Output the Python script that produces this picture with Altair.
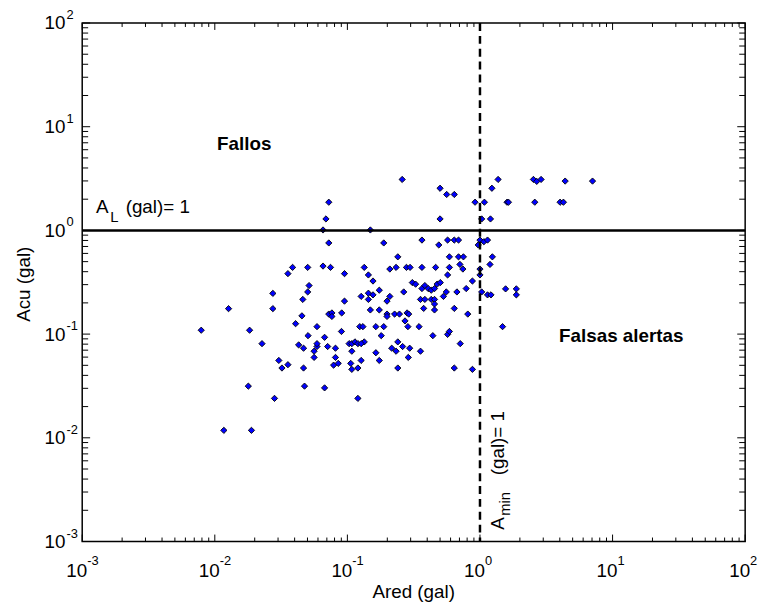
import altair as alt
import pandas as pd

# ---- data (gal) ----
ared = [0.0386, 0.0356, 0.0274, 0.0127, 0.0274, 0.0461, 0.0454, 0.0407, 0.0079, 0.0183,
        0.0227, 0.0429, 0.0467, 0.0304, 0.0321, 0.0356, 0.0467, 0.0179, 0.0475, 0.0282,
        0.0117, 0.0189, 0.259, 0.500, 0.561, 0.640, 0.0724, 0.918, 1.08, 1.23,
        1.37, 0.0689, 0.500, 1.03, 1.20, 0.0655, 0.149, 0.0724, 0.188, 0.365,
        0.489, 0.570, 0.640, 0.689, 1.00, 1.07, 1.14, 0.970, 0.240, 0.588,
        0.689, 0.750, 1.24, 1.19, 0.706, 0.0502, 0.0655, 0.0746, 0.0951, 0.134,
        0.144, 0.156, 0.209, 0.233, 0.279, 0.297, 0.365, 0.463, 0.588, 0.743,
        0.570, 1.00, 1.00, 0.877, 0.787, 0.0514, 0.0502, 0.0951, 0.127, 0.144,
        0.144, 0.156, 0.174, 0.209, 0.199, 0.266, 0.309, 0.327, 0.365, 0.384,
        0.407, 0.429, 0.454, 0.475, 0.502, 0.557, 0.530, 0.670, 0.356, 0.384,
        0.429, 0.454, 0.454, 1.03, 1.14, 1.21, 0.0724, 0.0764, 0.0906, 0.149,
        0.174, 0.199, 0.227, 0.247, 0.282, 0.290, 0.376, 0.454, 0.640, 0.809,
        0.0764, 0.199, 0.272, 0.0590, 0.124, 0.131, 0.164, 0.188, 0.286, 0.347,
        1.48, 0.0505, 0.0673, 0.0902, 0.180, 0.441, 0.570, 0.588, 0.0561, 0.0590,
        0.0590, 0.0710, 0.0813, 0.103, 0.108, 0.114, 0.120, 0.134, 0.127, 0.108,
        0.164, 0.216, 0.240, 0.233, 0.261, 0.295, 0.356, 0.710, 0.0561, 0.0813,
        0.174, 0.288, 0.127, 0.0787, 0.0853, 0.106, 0.108, 0.120, 0.240, 0.640,
        0.877, 0.0673, 0.120, 2.53, 2.68, 2.89, 4.39, 7.06, 1.60, 1.64,
        2.59, 4.02, 4.26, 1.56, 1.88, 1.88]
acu = [0.440, 0.383, 0.247, 0.176, 0.176, 0.216, 0.150, 0.126, 0.109, 0.109,
       0.0809, 0.0787, 0.0731, 0.0557, 0.0471, 0.0507, 0.0471, 0.0315, 0.0315, 0.0240,
       0.0118, 0.0118, 3.10, 2.55, 2.22, 2.22, 1.87, 1.87, 1.87, 2.55,
       3.10, 1.29, 1.29, 1.29, 1.29, 1.01, 1.01, 0.757, 0.757, 0.807,
       0.724, 0.807, 0.807, 0.807, 0.807, 0.778, 0.807, 0.724, 0.556, 0.556,
       0.556, 0.556, 0.556, 0.470, 0.470, 0.440, 0.453, 0.440, 0.383, 0.440,
       0.372, 0.325, 0.424, 0.440, 0.440, 0.440, 0.440, 0.440, 0.440, 0.424,
       0.372, 0.424, 0.372, 0.325, 0.275, 0.294, 0.255, 0.208, 0.231, 0.248,
       0.216, 0.239, 0.265, 0.231, 0.208, 0.255, 0.314, 0.303, 0.275, 0.294,
       0.275, 0.265, 0.275, 0.303, 0.314, 0.255, 0.231, 0.255, 0.216, 0.216,
       0.216, 0.216, 0.195, 0.255, 0.239, 0.239, 0.156, 0.160, 0.160, 0.171,
       0.171, 0.156, 0.156, 0.156, 0.160, 0.156, 0.177, 0.171, 0.177, 0.156,
       0.148, 0.148, 0.134, 0.118, 0.118, 0.118, 0.118, 0.118, 0.118, 0.118,
       0.118, 0.0966, 0.0931, 0.106, 0.0966, 0.0966, 0.0994, 0.106, 0.0684, 0.0759,
       0.0809, 0.0759, 0.0731, 0.0809, 0.0809, 0.0841, 0.0809, 0.0841, 0.0809, 0.0684,
       0.0661, 0.0731, 0.0841, 0.0684, 0.0759, 0.0731, 0.0684, 0.0809, 0.0596, 0.0596,
       0.0557, 0.0596, 0.0557, 0.0502, 0.0522, 0.0522, 0.0457, 0.0471, 0.0471, 0.0471,
       0.0457, 0.0303, 0.0240, 3.10, 2.97, 3.10, 2.99, 2.99, 1.87, 1.87,
       1.87, 1.87, 1.87, 0.273, 0.273, 0.239]

al_threshold = [1.0]     # A_L (gal) = 1
amin_threshold = [1.0]   # A_min (gal) = 1

major_exponents = [-3, -2, -1, 0, 1, 2]
minor_multipliers = [2, 3, 4, 5, 6, 7, 8, 9]

x_title = "Ared (gal)"
y_title = "Acu (gal)"
label_fallos = "Fallos"
label_falsas = "Falsas alertas"

# ---- layout / style ----
W, H = 670, 524
FONT = "Liberation Sans"
FS = 19
FS_SMALL = 13

xs = alt.Scale(type="log", domain=[1e-3, 1e2], nice=False)
ys = alt.Scale(type="log", domain=[1e-3, 1e2], nice=False)


def X(f):
    return alt.X(f, type="quantitative", scale=xs, axis=None)


def Y(f):
    return alt.Y(f, type="quantitative", scale=ys, axis=None)


pts = pd.DataFrame({"ared": ared, "acu": acu})
major = pd.DataFrame({"v": [10.0 ** e for e in major_exponents],
                      "e": [str(e) for e in major_exponents]})
minor = pd.DataFrame({"v": [m * 10.0 ** e for e in major_exponents[:-1] for m in minor_multipliers]})

points = alt.Chart(pts).mark_point(
    shape="diamond", filled=True, fill="#0000ff", stroke="black",
    strokeWidth=0.9, size=40, opacity=1, fillOpacity=1
).encode(x=X("ared"), y=Y("acu"))

hline = alt.Chart(pd.DataFrame({"acu": al_threshold})).mark_rule(
    color="black", strokeWidth=2.5).encode(y=Y("acu"))
vline = alt.Chart(pd.DataFrame({"ared": amin_threshold})).mark_rule(
    color="black", strokeWidth=2.5, strokeDash=[8, 5]).encode(x=X("ared"))

layers = [points, hline, vline]

# inward ticks on all four sides
for df, lx, ly in [(major, 7, 8), (minor, 4, 6)]:
    layers.append(alt.Chart(df).mark_rule(color="black", strokeWidth=1).encode(
        x=X("v"), y=alt.value(H), y2=alt.value(H - lx)))
    layers.append(alt.Chart(df).mark_rule(color="black", strokeWidth=1).encode(
        x=X("v"), y=alt.value(0), y2=alt.value(lx)))
    layers.append(alt.Chart(df).mark_rule(color="black", strokeWidth=1).encode(
        y=Y("v"), x=alt.value(0), x2=alt.value(ly)))
    layers.append(alt.Chart(df).mark_rule(color="black", strokeWidth=1).encode(
        y=Y("v"), x=alt.value(W), x2=alt.value(W - ly)))

# tick labels 10^e
layers.append(alt.Chart(major).mark_text(font=FONT, fontSize=FS, align="right",
                                         baseline="alphabetic", dx=5).encode(
    x=X("v"), y=alt.value(H + 36), text=alt.value("10")))
layers.append(alt.Chart(major).mark_text(font=FONT, fontSize=FS_SMALL, align="left",
                                         baseline="alphabetic", dx=5).encode(
    x=X("v"), y=alt.value(H + 24), text="e:N"))
layers.append(alt.Chart(major).mark_text(font=FONT, fontSize=FS, align="right",
                                         baseline="alphabetic", dy=6.5).encode(
    y=Y("v"), x=alt.value(-17), text=alt.value("10")))
layers.append(alt.Chart(major).mark_text(font=FONT, fontSize=FS_SMALL, align="left",
                                         baseline="alphabetic", dy=-4).encode(
    y=Y("v"), x=alt.value(-16), text="e:N"))

# axis titles
layers.append(alt.Chart(pd.DataFrame({"t": [x_title]})).mark_text(
    font=FONT, fontSize=FS, align="center", baseline="alphabetic").encode(
    x=alt.value(W / 2), y=alt.value(H + 57), text="t:N"))
layers.append(alt.Chart(pd.DataFrame({"t": [y_title]})).mark_text(
    font=FONT, fontSize=FS, align="center", baseline="alphabetic", angle=270).encode(
    x=alt.value(-53), y=alt.value(H / 2 + 2), text="t:N"))

# region annotations
layers.append(alt.Chart(pd.DataFrame({"ared": [0.0104], "acu": [6.0], "t": [label_fallos]})).mark_text(
    font=FONT, fontSize=FS, fontWeight="bold", align="left", baseline="alphabetic").encode(
    x=X("ared"), y=Y("acu"), text="t:N"))
layers.append(alt.Chart(pd.DataFrame({"ared": [3.95], "acu": [0.0846], "t": [label_falsas]})).mark_text(
    font=FONT, fontSize=FS, fontWeight="bold", align="left", baseline="alphabetic").encode(
    x=X("ared"), y=Y("acu"), text="t:N"))

# A_L (gal)= 1
al_anchor = pd.DataFrame({"ared": [0.00127], "acu": [1.47]})
for txt, size, dx, dy in [("A", FS, 0, 0), ("L", 15, 14.5, 9), ("(gal)= 1", FS, 30, 0)]:
    layers.append(alt.Chart(al_anchor).mark_text(
        font=FONT, fontSize=size, align="left", baseline="alphabetic", dx=dx, dy=dy).encode(
        x=X("ared"), y=Y("acu"), text=alt.value(txt)))

# A_min (gal)= 1 (vertical)
amin_anchor = pd.DataFrame({"ared": [1.51], "acu": [0.0013]})
for txt, size, dx, dy in [("A", FS, 0, 0), ("min", 15, 14, 6), ("(gal)= 1", FS, 55, 0)]:
    layers.append(alt.Chart(amin_anchor).mark_text(
        font=FONT, fontSize=size, align="left", baseline="alphabetic", angle=270,
        dx=dx, dy=dy).encode(
        x=X("ared"), y=Y("acu"), text=alt.value(txt)))

chart = alt.layer(*layers).properties(
    width=W, height=H,
    padding={"left": 75, "top": 12, "right": 15, "bottom": 61},
    autosize=alt.AutoSizeParams(type="none"),
).configure_view(stroke="black", strokeWidth=1.5)

chart.save("out.html", embed_options={"renderer": "svg", "actions": False})
